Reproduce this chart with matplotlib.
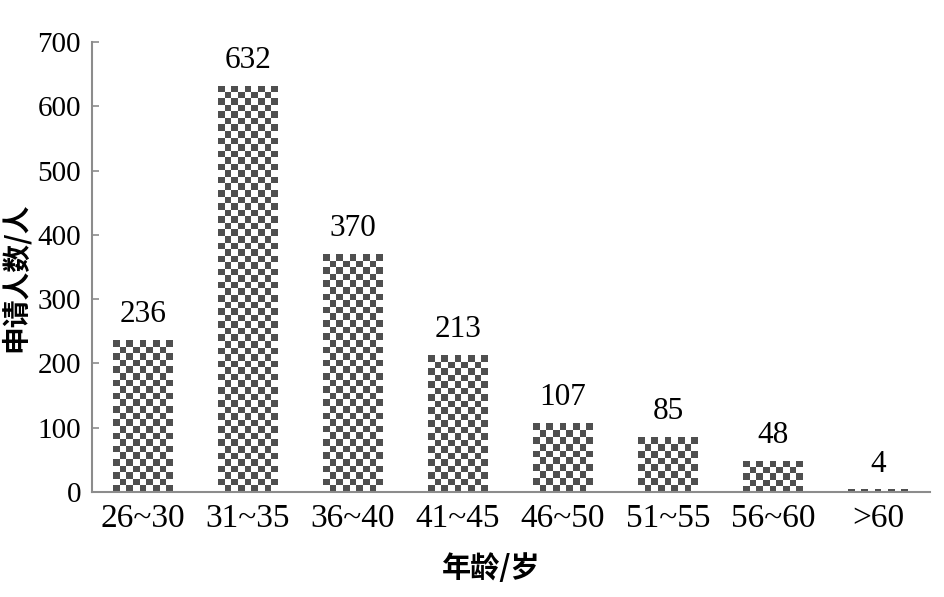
import matplotlib
matplotlib.use("Agg")
import matplotlib.pyplot as plt
import numpy as np

categories = ["26~30", "31~35", "36~40", "41~45", "46~50", "51~55", "56~60", ">60"]
values = [236, 632, 370, 213, 107, 85, 48, 4]
yticks = [0, 100, 200, 300, 400, 500, 600, 700]

serif = ["Liberation Serif", "DejaVu Serif"]
cjk = ["Noto Sans CJK SC", "DejaVu Sans"]

fig = plt.figure(figsize=(9.45, 5.97), dpi=100)
W, H = 945, 597
ax = fig.add_axes([92 / W, 1 - 492 / H, (930 - 92) / W, (492 - 42) / H])

x = np.arange(len(categories))
width = 0.57
dark = "#4f4f4f"
cell_px = 6.6

ax.set_xlim(-0.486, 7.495)
ax.set_ylim(0, 700)

bars = ax.bar(x, values, width=width, color="none", edgecolor="none")
fig.canvas.draw()
for b, v in zip(bars, values):
    bb = b.get_window_extent()
    nx = max(1, int(round(bb.width / cell_px)))
    ny = max(1, int(round(bb.height / cell_px)))
    ii, jj = np.indices((ny, nx))
    checker = ((ii + jj) % 2 == 0).astype(float)
    im = ax.imshow(checker, cmap=matplotlib.colors.ListedColormap(["white", dark]),
                   extent=(b.get_x(), b.get_x() + b.get_width(), 0, b.get_height()),
                   origin="upper", aspect="auto", interpolation="nearest", zorder=2)
    im.set_clip_path(b)
    ax.text(b.get_x() + b.get_width() / 2, v + 17, str(v), ha="center", va="bottom",
            fontsize=22.5, family=serif)

ax.set_xlim(-0.486, 7.495)
ax.set_ylim(0, 700)

for s in ["top", "right"]:
    ax.spines[s].set_visible(False)
for s in ["left", "bottom"]:
    ax.spines[s].set_color("#8c8c8c")
    ax.spines[s].set_linewidth(1.5)

ax.set_yticks(yticks)
ax.set_yticklabels([str(t) for t in yticks], fontsize=21, family=serif)
ax.tick_params(axis="y", direction="in", length=5, width=1.2, color="#8c8c8c", pad=8)
ax.set_xticks(x)
ax.set_xticklabels(categories, fontsize=24, family=serif)
ax.tick_params(axis="x", length=0, pad=8)

ax.set_xlabel("年龄/岁", fontsize=21, family=cjk, fontweight="bold")
ax.set_ylabel("申请人数/人", fontsize=20, family=cjk, fontweight="bold")
ax.xaxis.set_label_coords(0.477, -0.135)
ax.yaxis.set_label_coords(-0.074, 0.478)

fig.savefig("out.png", dpi=100)
